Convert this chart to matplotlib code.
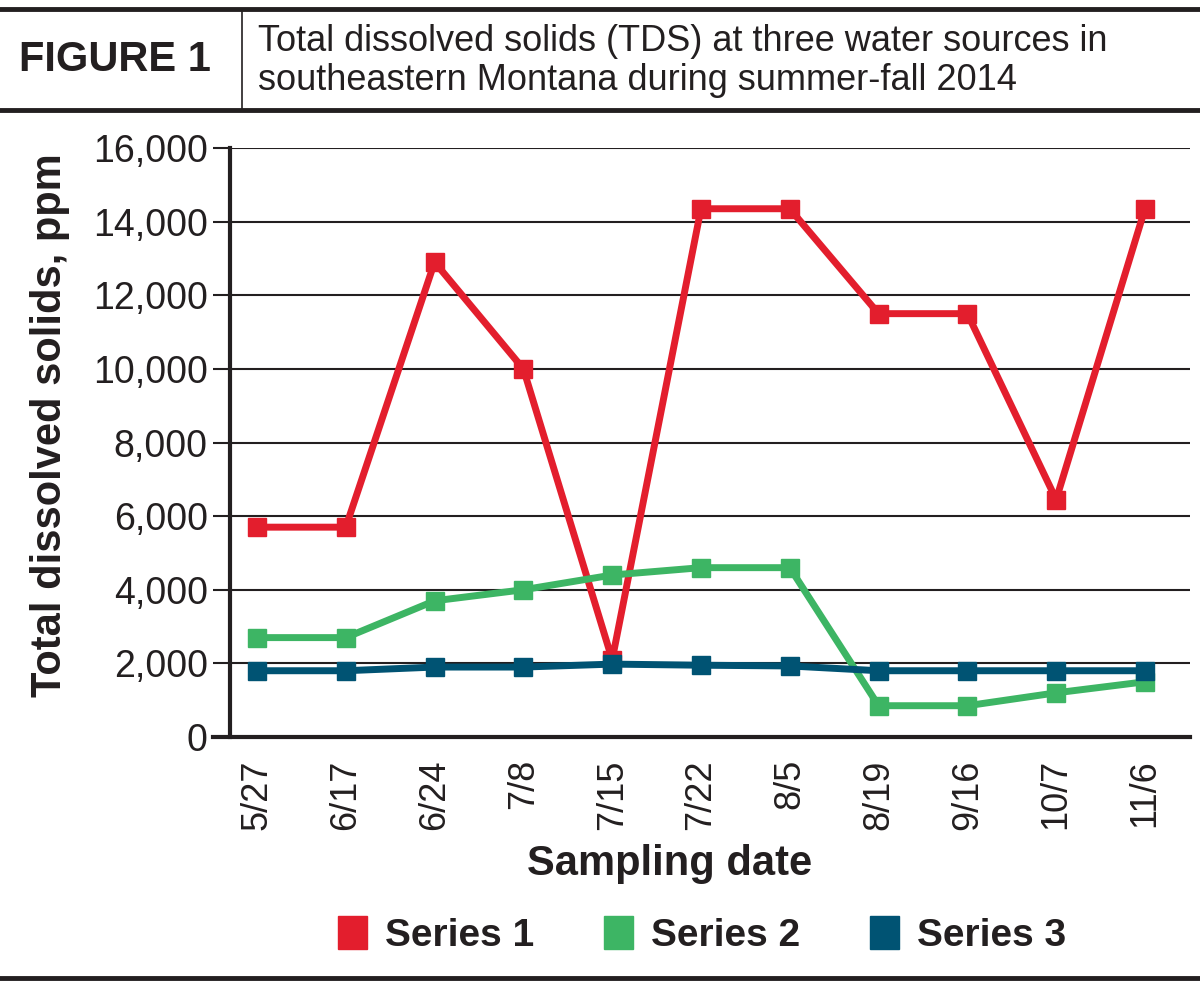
import matplotlib
matplotlib.use("Agg")
import matplotlib.pyplot as plt
from matplotlib.lines import Line2D
from matplotlib.patches import Patch
from matplotlib.ticker import FuncFormatter

dates = ["5/27", "6/17", "6/24", "7/8", "7/15", "7/22", "8/5", "8/19", "9/16", "10/7", "11/6"]
series1 = [5700, 5700, 12900, 10000, 2100, 14350, 14350, 11500, 11500, 6450, 14350]
series2 = [2700, 2700, 3700, 4000, 4400, 4600, 4600, 850, 850, 1200, 1500]
series3 = [1800, 1800, 1900, 1900, 1980, 1950, 1930, 1800, 1800, 1800, 1800]
names = ["Series 1", "Series 2", "Series 3"]
colors = ["#E31E2D", "#3DB564", "#005373"]
yticks = list(range(0, 16001, 2000))

FONT = ["Liberation Sans Narrow", "Liberation Sans", "DejaVu Sans"]
plt.rcParams['font.family'] = FONT
INK = '#231F20'

fig = plt.figure(figsize=(12, 9.94), dpi=100)
ax = fig.add_axes([230/1200, 257/994, 960/1200, 589/994])

x = list(range(len(dates)))
for vals, c in zip([series1, series2, series3], colors):
    ax.plot(x, vals, color=c, lw=5, marker='s', ms=13, mec=c, mfc=c, zorder=3)

ax.set_ylim(0, 16000)
ax.set_xlim(-0.304, 10.507)
ax.set_yticks(yticks)
ax.yaxis.set_major_formatter(FuncFormatter(lambda v, p: f"{int(v):,}"))
ax.set_xticks(x)
ax.set_xticklabels(dates, rotation=90)
ax.grid(axis='y', color=INK, lw=1.5, zorder=0)
ax.tick_params(axis='y', length=12, width=1.5, color=INK, labelsize=27, pad=4, labelcolor=INK)
ax.tick_params(axis='x', length=0, labelsize=26, pad=16, labelcolor=INK)
for s in ['top', 'right']:
    ax.spines[s].set_visible(False)
ax.spines['left'].set_linewidth(3)
ax.spines['left'].set_color(INK)
ax.spines['bottom'].set_linewidth(3)
ax.spines['bottom'].set_color(INK)
ax.spines['bottom'].set_bounds(-0.304 - 17/88.8, 10.507)

ax.set_xlabel("Sampling date", fontsize=30, fontweight='bold', color=INK)
ax.xaxis.set_label_coords((670 - 230) / 960, -0.182)
ax.set_ylabel("Total dissolved solids, ppm", fontsize=30, fontweight='bold', color=INK)
ax.yaxis.set_label_coords((70 - 230) / 960, (737 - 425) / 589)

handles = [Patch(facecolor=c, edgecolor=c) for c in colors]
fig.legend(handles, names, loc='center', bbox_to_anchor=(0.585, 1 - 935/994), ncol=3,
           frameon=False, prop={'size': 28, 'weight': 'bold'}, handlelength=0.75, handleheight=0.9,
           handletextpad=0.45, columnspacing=1.8, labelcolor=INK)

# header
fig.add_artist(Line2D([0, 1], [1 - 9/994, 1 - 9/994], color=INK, lw=3.5))
fig.add_artist(Line2D([0, 1], [1 - 110/994, 1 - 110/994], color=INK, lw=3.5))
fig.add_artist(Line2D([242/1200, 242/1200], [1 - 110/994, 1 - 9/994], color=INK, lw=1.2))
fig.add_artist(Line2D([0, 1], [1 - 978/994, 1 - 978/994], color=INK, lw=3.5))
fig.text(115/1200, 1 - 60/994, "FIGURE 1", ha='center', va='center', fontsize=30, fontweight='bold', color=INK)
fig.text(258/1200, 1 - 61/994, "Total dissolved solids (TDS) at three water sources in\nsoutheastern Montana during summer-fall 2014",
         ha='left', va='center', fontsize=26, color=INK, linespacing=1.12)

fig.savefig("out.png", dpi=100, facecolor='white')
